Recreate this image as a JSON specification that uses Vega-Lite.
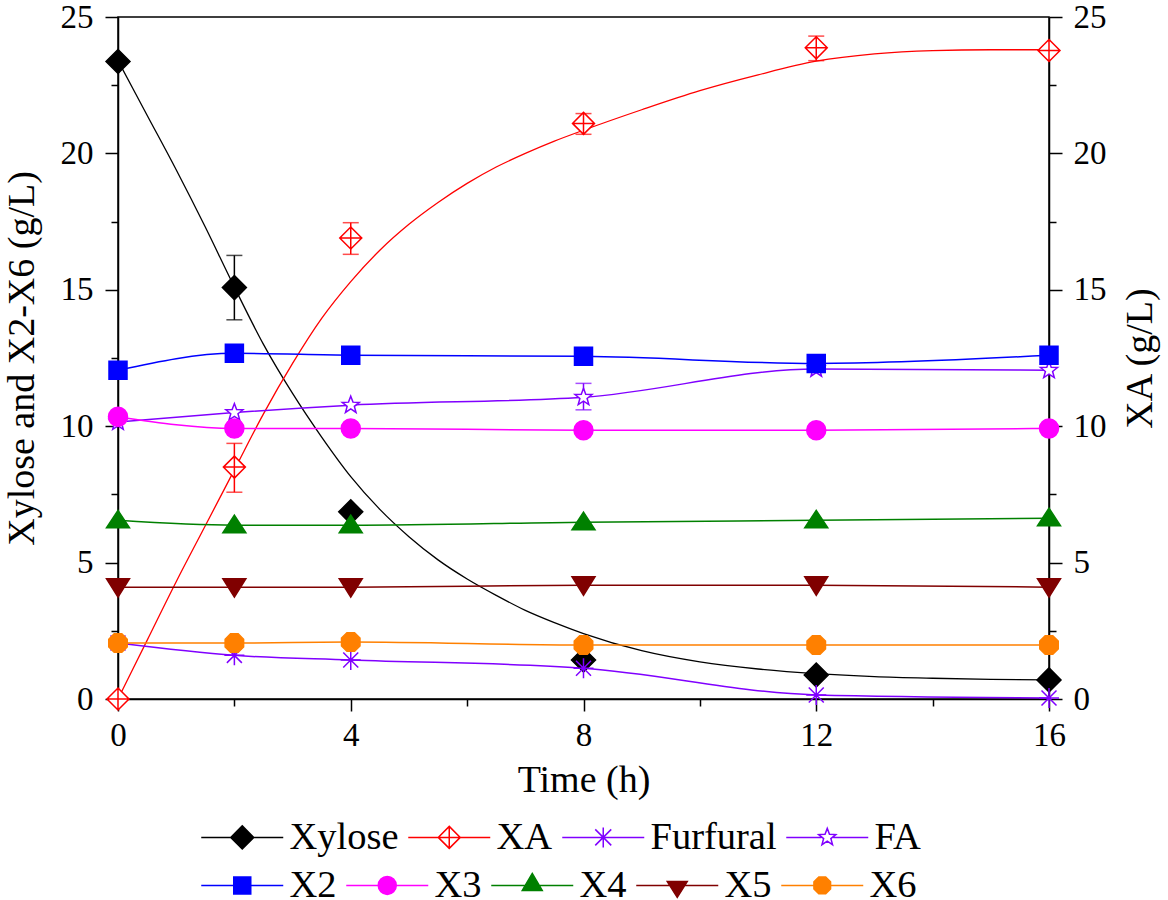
{
  "$schema": "https://vega.github.io/schema/vega-lite/v6.json",
  "width": 931,
  "height": 682,
  "autosize": "none",
  "padding": {"left": 118, "top": 17, "right": 119, "bottom": 201},
  "datasets": {
    "obs": [
      {"s": "Xylose", "t": 0, "v": 23.37},
      {"s": "Xylose", "t": 2, "v": 15.08, "lo": 13.9, "hi": 16.26},
      {"s": "Xylose", "t": 4, "v": 6.86},
      {"s": "Xylose", "t": 8, "v": 1.43},
      {"s": "Xylose", "t": 12, "v": 0.88},
      {"s": "Xylose", "t": 16, "v": 0.7},
      {"s": "XA", "t": 0, "v": 0},
      {"s": "XA", "t": 2, "v": 8.5, "lo": 7.58, "hi": 9.37},
      {"s": "XA", "t": 4, "v": 16.9, "lo": 16.3, "hi": 17.46},
      {"s": "XA", "t": 8, "v": 21.1, "lo": 20.7, "hi": 21.46},
      {"s": "XA", "t": 12, "v": 23.87, "lo": 23.4, "hi": 24.3},
      {"s": "XA", "t": 16, "v": 23.77},
      {"s": "Furfural", "t": 0, "v": 2.05},
      {"s": "Furfural", "t": 2, "v": 1.6},
      {"s": "Furfural", "t": 4, "v": 1.43},
      {"s": "Furfural", "t": 8, "v": 1.13},
      {"s": "Furfural", "t": 12, "v": 0.15},
      {"s": "Furfural", "t": 16, "v": 0.04},
      {"s": "FA", "t": 0, "v": 10.15},
      {"s": "FA", "t": 2, "v": 10.5},
      {"s": "FA", "t": 4, "v": 10.77},
      {"s": "FA", "t": 8, "v": 11.06, "lo": 10.6, "hi": 11.57},
      {"s": "FA", "t": 12, "v": 12.1},
      {"s": "FA", "t": 16, "v": 12.05},
      {"s": "X2", "t": 0, "v": 12.05},
      {"s": "X2", "t": 2, "v": 12.67},
      {"s": "X2", "t": 4, "v": 12.6},
      {"s": "X2", "t": 8, "v": 12.56},
      {"s": "X2", "t": 12, "v": 12.3},
      {"s": "X2", "t": 16, "v": 12.6},
      {"s": "X3", "t": 0, "v": 10.35},
      {"s": "X3", "t": 2, "v": 9.92},
      {"s": "X3", "t": 4, "v": 9.92},
      {"s": "X3", "t": 8, "v": 9.85},
      {"s": "X3", "t": 12, "v": 9.85},
      {"s": "X3", "t": 16, "v": 9.92},
      {"s": "X4", "t": 0, "v": 6.55},
      {"s": "X4", "t": 2, "v": 6.37},
      {"s": "X4", "t": 4, "v": 6.37},
      {"s": "X4", "t": 8, "v": 6.48},
      {"s": "X4", "t": 12, "v": 6.55},
      {"s": "X4", "t": 16, "v": 6.63},
      {"s": "X5", "t": 0, "v": 4.1},
      {"s": "X5", "t": 2, "v": 4.1},
      {"s": "X5", "t": 4, "v": 4.1},
      {"s": "X5", "t": 8, "v": 4.17},
      {"s": "X5", "t": 12, "v": 4.17},
      {"s": "X5", "t": 16, "v": 4.1},
      {"s": "X6", "t": 0, "v": 2.05},
      {"s": "X6", "t": 2, "v": 2.05},
      {"s": "X6", "t": 4, "v": 2.09},
      {"s": "X6", "t": 8, "v": 1.98},
      {"s": "X6", "t": 12, "v": 1.98},
      {"s": "X6", "t": 16, "v": 1.98}
    ],
    "fit": [
      {"s": "Xylose", "t": 0, "v": 23.4},
      {"s": "Xylose", "t": 0.5, "v": 21.4},
      {"s": "Xylose", "t": 1, "v": 19.4},
      {"s": "Xylose", "t": 1.5, "v": 17.3},
      {"s": "Xylose", "t": 2, "v": 15.1},
      {"s": "Xylose", "t": 2.5, "v": 13.0},
      {"s": "Xylose", "t": 3, "v": 11.2},
      {"s": "Xylose", "t": 3.5, "v": 9.6},
      {"s": "Xylose", "t": 4, "v": 8.15},
      {"s": "Xylose", "t": 4.5, "v": 6.95},
      {"s": "Xylose", "t": 5, "v": 5.95},
      {"s": "Xylose", "t": 5.5, "v": 5.1},
      {"s": "Xylose", "t": 6, "v": 4.4},
      {"s": "Xylose", "t": 6.5, "v": 3.8},
      {"s": "Xylose", "t": 7, "v": 3.25},
      {"s": "Xylose", "t": 7.5, "v": 2.8},
      {"s": "Xylose", "t": 8, "v": 2.4},
      {"s": "Xylose", "t": 9, "v": 1.77},
      {"s": "Xylose", "t": 10, "v": 1.36},
      {"s": "Xylose", "t": 11, "v": 1.1},
      {"s": "Xylose", "t": 12, "v": 0.93},
      {"s": "Xylose", "t": 13, "v": 0.82},
      {"s": "Xylose", "t": 14, "v": 0.76},
      {"s": "Xylose", "t": 15, "v": 0.72},
      {"s": "Xylose", "t": 16, "v": 0.7},
      {"s": "XA", "t": 0, "v": 0},
      {"s": "XA", "t": 0.5, "v": 2.15},
      {"s": "XA", "t": 1, "v": 4.3},
      {"s": "XA", "t": 1.5, "v": 6.35},
      {"s": "XA", "t": 2, "v": 8.4},
      {"s": "XA", "t": 2.5, "v": 10.45},
      {"s": "XA", "t": 3, "v": 12.3},
      {"s": "XA", "t": 3.5, "v": 13.95},
      {"s": "XA", "t": 4, "v": 15.3},
      {"s": "XA", "t": 4.5, "v": 16.45},
      {"s": "XA", "t": 5, "v": 17.4},
      {"s": "XA", "t": 5.5, "v": 18.2},
      {"s": "XA", "t": 6, "v": 18.9},
      {"s": "XA", "t": 6.5, "v": 19.5},
      {"s": "XA", "t": 7, "v": 20.0},
      {"s": "XA", "t": 7.5, "v": 20.45},
      {"s": "XA", "t": 8, "v": 20.85},
      {"s": "XA", "t": 9, "v": 21.6},
      {"s": "XA", "t": 10, "v": 22.3},
      {"s": "XA", "t": 11, "v": 22.88},
      {"s": "XA", "t": 12, "v": 23.38},
      {"s": "XA", "t": 13, "v": 23.65},
      {"s": "XA", "t": 14, "v": 23.77},
      {"s": "XA", "t": 15, "v": 23.8},
      {"s": "XA", "t": 16, "v": 23.8}
    ]
  },
  "layer": [
    {
      "layer": [
        {
          "data": {"name": "fit"},
          "mark": {"type": "line", "strokeWidth": 1.3, "interpolate": "monotone"},
          "encoding": {
            "x": {
              "field": "t", "type": "quantitative", "title": "Time (h)",
              "scale": {"domain": [0, 16], "nice": false},
              "axis": {
                "values": [0, 2, 4, 6, 8, 10, 12, 14, 16],
                "format": "d",
                "labelExpr": "datum.value % 4 === 0 ? datum.label : ''",
                "tickSize": {"condition": {"test": "datum.value % 4 === 0", "value": 12}, "value": 7},
                "labelPadding": 8,
                "titlePadding": 9
              }
            },
            "y": {
              "field": "v", "type": "quantitative", "title": "Xylose and X2-X6 (g/L)",
              "scale": {"domain": [0, 25], "nice": false},
              "axis": {
                "orient": "left",
                "values": [0, 2.5, 5, 7.5, 10, 12.5, 15, 17.5, 20, 22.5, 25],
                "format": "d",
                "labelExpr": "datum.value % 5 === 0 ? datum.label : ''",
                "tickSize": {"condition": {"test": "datum.value % 5 === 0", "value": 13}, "value": 7},
                "labelPadding": 12,
                "titlePadding": 19
              }
            },
            "stroke": {"field": "s", "type": "nominal", "legend": null, "scale": {"domain": ["Xylose", "XA", "Furfural", "FA", "X2", "X3", "X4", "X5", "X6"], "range": ["#000000", "#FF0000", "#8000FF", "#8000FF", "#0000FF", "#FF00FF", "#008000", "#800000", "#FF8000"]}}
          }
        },
        {
          "data": {"name": "obs"},
          "transform": [{"filter": "datum.s !== 'Xylose' && datum.s !== 'XA'"}],
          "mark": {"type": "line", "strokeWidth": 1.5, "interpolate": "monotone"},
          "encoding": {
            "x": {"field": "t", "type": "quantitative", "title": "Time (h)"},
            "y": {"field": "v", "type": "quantitative", "title": "Xylose and X2-X6 (g/L)"},
            "stroke": {"field": "s", "type": "nominal", "legend": null},
            "order": {"field": "t", "type": "quantitative"}
          }
        },
        {
          "data": {"name": "obs"},
          "transform": [{"filter": "datum.lo != null"}],
          "mark": {"type": "rule", "strokeWidth": 1.5},
          "encoding": {
            "x": {"field": "t", "type": "quantitative", "title": "Time (h)"},
            "y": {"field": "lo", "type": "quantitative", "title": "Xylose and X2-X6 (g/L)"},
            "y2": {"field": "hi"},
            "stroke": {"field": "s", "type": "nominal", "legend": null}
          }
        },
        {
          "data": {"name": "obs"},
          "transform": [{"filter": "datum.lo != null"}],
          "mark": {"type": "tick", "orient": "horizontal", "size": 16, "thickness": 1.5},
          "encoding": {
            "x": {"field": "t", "type": "quantitative", "title": "Time (h)"},
            "y": {"field": "lo", "type": "quantitative", "title": "Xylose and X2-X6 (g/L)"},
            "color": {"field": "s", "type": "nominal", "legend": null, "scale": {"domain": ["Xylose", "XA", "Furfural", "FA"], "range": ["#000000", "#FF0000", "#8000FF", "#8000FF"]}}
          }
        },
        {
          "data": {"name": "obs"},
          "transform": [{"filter": "datum.hi != null"}],
          "mark": {"type": "tick", "orient": "horizontal", "size": 16, "thickness": 1.5},
          "encoding": {
            "x": {"field": "t", "type": "quantitative", "title": "Time (h)"},
            "y": {"field": "hi", "type": "quantitative", "title": "Xylose and X2-X6 (g/L)"},
            "color": {"field": "s", "type": "nominal", "legend": null}
          }
        },
        {
          "data": {"name": "obs"},
          "mark": {"type": "point", "size": 400, "strokeWidth": 1.5, "opacity": 1},
          "encoding": {
            "x": {"field": "t", "type": "quantitative", "title": "Time (h)"},
            "y": {"field": "v", "type": "quantitative", "title": "Xylose and X2-X6 (g/L)"},
            "stroke": {"field": "s", "type": "nominal", "legend": null},
            "fill": {"field": "s", "type": "nominal", "legend": null, "scale": {"domain": ["Xylose", "XA", "Furfural", "FA", "X2", "X3", "X4", "X5", "X6"], "range": ["#000000", "#FFFFFF", "#8000FF", "#FFFFFF", "#0000FF", "#FF00FF", "#008000", "#800000", "#FF8000"]}},
            "shape": {"field": "s", "type": "nominal", "legend": null, "scale": {"domain": ["Xylose", "XA", "Furfural", "FA", "X2", "X3", "X4", "X5", "X6"], "range": [
              "M0,-1.2L1.2,0L0,1.2L-1.2,0Z",
              "M0,-1.1L1.1,0L0,1.1L-1.1,0ZM-1.1,0H1.1M0,-1.1V1.1",
              "M-1,0H1M0,-1V1M-0.75,-0.75L0.75,0.75M-0.75,0.75L0.75,-0.75",
              "M0,-0.9L0.223,-0.307L0.856,-0.278L0.361,0.117L0.529,0.728L0,0.38L-0.529,0.728L-0.361,0.117L-0.856,-0.278L-0.223,-0.307Z",
              "M-0.9,-0.9H0.9V0.9H-0.9Z",
              "M-0.95,0A0.95,0.95,0,1,0,0.95,0A0.95,0.95,0,1,0,-0.95,0Z",
              "M0,-1L1.15,0.75L-1.15,0.75Z",
              "M0,1L1.15,-0.85L-1.15,-0.85Z",
              "M0.383,-0.924L0.924,-0.383L0.924,0.383L0.383,0.924L-0.383,0.924L-0.924,0.383L-0.924,-0.383L-0.383,-0.924Z"
            ]}}
          }
        }
      ]
    },
    {
      "data": {"name": "obs"},
      "transform": [{"filter": "false"}],
      "mark": {"type": "point", "size": 400, "strokeWidth": 1.5, "opacity": 1},
      "encoding": {
        "x": {"field": "t", "type": "quantitative", "title": "Time (h)"},
        "y": {"field": "v", "type": "quantitative", "axis": null, "scale": {"domain": [0, 25], "nice": false}},
        "stroke": {"field": "s", "type": "nominal", "title": null,
          "scale": {"domain": ["Xylose", "XA", "Furfural", "FA"], "range": ["#000000", "#FF0000", "#8000FF", "#8000FF"]},
          "legend": {"title": null, "orient": "none", "legendX": 74, "legendY": 801, "direction": "horizontal"}},
        "fill": {"field": "s", "type": "nominal", "title": null,
          "scale": {"domain": ["Xylose", "XA", "Furfural", "FA"], "range": ["#000000", "#FFFFFF", "#8000FF", "#FFFFFF"]},
          "legend": {"title": null, "orient": "none", "legendX": 74, "legendY": 801, "direction": "horizontal"}},
        "shape": {"field": "s", "type": "nominal", "title": null,
          "scale": {"domain": ["Xylose", "XA", "Furfural", "FA"], "range": [
            "M-4.1,0H4.1M0,-1.15L1.15,0L0,1.15L-1.15,0Z",
            "M-4.1,0H4.1M0,-1.1L1.1,0L0,1.1L-1.1,0ZM0,-1.1V1.1",
            "M-4.1,0H4.1M0,-1V1M-0.8,-0.8L0.8,0.8M-0.8,0.8L0.8,-0.8",
            "M-4.1,0H-0.6M0.6,0H4.1M0,-0.9L0.223,-0.307L0.856,-0.278L0.361,0.117L0.529,0.728L0,0.38L-0.529,0.728L-0.361,0.117L-0.856,-0.278L-0.223,-0.307Z"
          ]},
          "legend": {"title": null, "orient": "none", "legendX": 74, "legendY": 801, "direction": "horizontal"}}
      }
    },
    {
      "data": {"name": "obs"},
      "transform": [{"filter": "false"}],
      "mark": {"type": "point", "size": 400, "strokeWidth": 1.5, "opacity": 1},
      "encoding": {
        "x": {"field": "t", "type": "quantitative", "title": "Time (h)"},
        "y": {
          "field": "v", "type": "quantitative", "title": "XA (g/L)",
          "scale": {"domain": [0, 25], "nice": false},
          "axis": {
            "orient": "right",
            "values": [0, 2.5, 5, 7.5, 10, 12.5, 15, 17.5, 20, 22.5, 25],
            "format": "d",
            "labelExpr": "datum.value % 5 === 0 ? datum.label : ''",
            "tickSize": {"condition": {"test": "datum.value % 5 === 0", "value": 13}, "value": 7},
            "labelPadding": 11,
            "titlePadding": 15,
            "titleAngle": 270,
            "titleBaseline": "top"
          }
        },
        "stroke": {"field": "s", "type": "nominal", "title": null,
          "scale": {"domain": ["X2", "X3", "X4", "X5", "X6"], "range": ["#0000FF", "#FF00FF", "#008000", "#800000", "#FF8000"]},
          "legend": {"title": null, "orient": "none", "legendX": 74, "legendY": 849, "direction": "horizontal"}},
        "fill": {"field": "s", "type": "nominal", "title": null,
          "scale": {"domain": ["X2", "X3", "X4", "X5", "X6"], "range": ["#0000FF", "#FF00FF", "#008000", "#800000", "#FF8000"]},
          "legend": {"title": null, "orient": "none", "legendX": 74, "legendY": 849, "direction": "horizontal"}},
        "shape": {"field": "s", "type": "nominal", "title": null,
          "scale": {"domain": ["X2", "X3", "X4", "X5", "X6"], "range": [
            "M-4.1,0H4.1M-0.85,-0.85H0.85V0.85H-0.85Z",
            "M-4.1,0H4.1M-0.9,0A0.9,0.9,0,1,0,0.9,0A0.9,0.9,0,1,0,-0.9,0Z",
            "M-4.1,0H4.1M0,-1.2L1,0.5L-1,0.5Z",
            "M-4.1,0H4.1M0,1.2L1,-0.4L-1,-0.4Z",
            "M-4.1,0H4.1M0.345,-0.832L0.832,-0.345L0.832,0.345L0.345,0.832L-0.345,0.832L-0.832,0.345L-0.832,-0.345L-0.345,-0.832Z"
          ]},
          "legend": {"title": null, "orient": "none", "legendX": 74, "legendY": 849, "direction": "horizontal"}}
      }
    }
  ],
  "resolve": {"scale": {"y": "independent", "stroke": "independent", "fill": "independent", "shape": "independent", "color": "independent"}},
  "config": {
    "view": {"stroke": "#000000", "strokeWidth": 1.5},
    "font": "Liberation Serif",
    "axis": {
      "grid": false,
      "labelFont": "Liberation Serif", "labelFontSize": 33, "labelColor": "#000000",
      "titleFont": "Liberation Serif", "titleFontSize": 38, "titleFontWeight": "normal", "titleColor": "#000000",
      "domainColor": "#000000", "domainWidth": 1.5, "tickColor": "#000000", "tickWidth": 1.5,
      "labelFlush": false, "labelOverlap": false
    },
    "legend": {
      "labelFont": "Liberation Serif", "labelFontSize": 38.5, "labelColor": "#000000",
      "symbolSize": 400, "symbolStrokeWidth": 1.5, "symbolOffset": 31, "labelOffset": 28,
      "columnPadding": -30, "padding": 0, "labelLimit": 400
    }
  }
}
